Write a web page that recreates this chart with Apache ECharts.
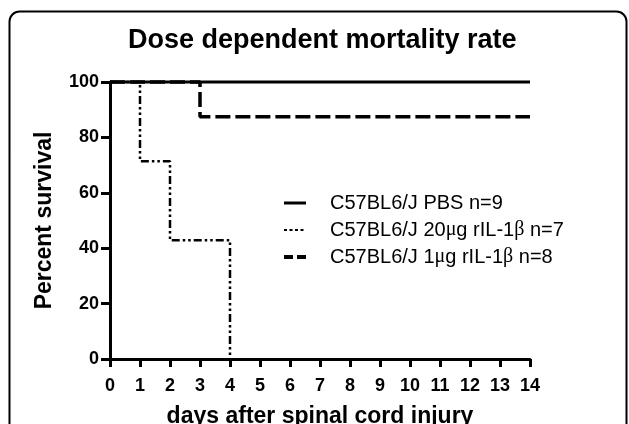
<!DOCTYPE html>
<html>
<head>
<meta charset="utf-8">
<title>Dose dependent mortality rate</title>
<script src="https://cdn.jsdelivr.net/npm/echarts@6/dist/echarts.min.js"></script>
<style>
    html, body { margin: 0; padding: 0; background: #fff; }
    #main { width: 629px; height: 424px; }
</style>
</head>
<body>
<div id="main"></div>
<script>
// 数据
const seriesNames = ['C57BL6/J PBS n=9', 'C57BL6/J 20μg rIL-1β n=7', 'C57BL6/J 1μg rIL-1β n=8']
const pbsDays = [0, 14]
const pbsSurvival = [100, 100]
const highDays = [0, 1, 2, 4]
const highSurvival = [100, 71.43, 42.86, 0]
const lowDays = [0, 3, 14]
const lowSurvival = [100, 87.5, 87.5]

const pairs = (xs, ys) => xs.map((x, i) => [x, ys[i]])
const font = 'Liberation Sans, Arial, sans-serif'

const option = {
    animation: false,
    backgroundColor: '#fff',
    graphic: [{
        type: 'rect',
        shape: { x: 9.5, y: 11.5, width: 617, height: 470, r: 10 },
        style: { fill: 'none', stroke: '#000', lineWidth: 2 },
        silent: true
    }],
    title: {
        text: 'Dose dependent mortality rate',
        left: 123,
        top: 22,
        textStyle: { fontFamily: font, fontSize: 27, fontWeight: 'bold', color: '#000' }
    },
    legend: {
        orient: 'vertical',
        left: 277,
        top: 188,
        itemWidth: 22,
        itemHeight: 14,
        itemGap: 7,
        itemStyle: { opacity: 0, borderWidth: 0 },
        data: [
            { name: seriesNames[0], lineStyle: { width: 3, type: 'solid' } },
            { name: seriesNames[1], lineStyle: { width: 2, type: [3, 2.5] } },
            { name: seriesNames[2], lineStyle: { width: 4, type: [9, 4] } }
        ],
        formatter: (name) => name.replace('μ', '{g|μ}').replace('β', '{g|β}'),
        textStyle: {
            fontFamily: font,
            fontSize: 20,
            color: '#000',
            padding: [0, 0, 0, 19],
            rich: {
                g: { fontFamily: 'Liberation Serif, serif', fontSize: 20, color: '#000' }
            }
        }
    },
    grid: { left: 110, right: 99, top: 82, bottom: 65, outerBoundsMode: 'none' },
    xAxis: {
        type: 'value',
        min: 0,
        max: 14,
        interval: 1,
        name: 'days after spinal cord injury',
        nameLocation: 'middle',
        nameGap: 46,
        nameTextStyle: { fontFamily: font, fontSize: 23, fontWeight: 'bold', color: '#000' },
        splitLine: { show: false },
        axisLine: { onZero: false, lineStyle: { color: '#000', width: 3 } },
        axisTick: { length: 8, lineStyle: { color: '#000', width: 3 } },
        axisLabel: { margin: 18, fontFamily: font, fontSize: 18, fontWeight: 'bold', color: '#000' }
    },
    yAxis: {
        type: 'value',
        min: 0,
        max: 100,
        interval: 20,
        name: 'Percent survival',
        nameLocation: 'middle',
        nameGap: 54,
        nameTextStyle: { fontFamily: font, fontSize: 23, fontWeight: 'bold', color: '#000' },
        splitLine: { show: false },
        axisLine: { show: true, lineStyle: { color: '#000', width: 3 } },
        axisTick: { show: true, length: 9, lineStyle: { color: '#000', width: 3 } },
        axisLabel: { margin: 11, fontFamily: font, fontSize: 18, fontWeight: 'bold', color: '#000' }
    },
    series: [
        {
            name: seriesNames[0],
            type: 'line',
            step: 'end',
            symbol: 'none',
            clip: false,
            z: 5,
            data: pairs(pbsDays, pbsSurvival),
            lineStyle: { color: '#000', width: 3, type: 'solid' },
            itemStyle: { color: '#000' }
        },
        {
            name: seriesNames[1],
            type: 'line',
            step: 'end',
            symbol: 'none',
            clip: false,
            z: 3,
            data: pairs(highDays, highSurvival),
            lineStyle: { color: '#000', width: 2.5, type: [8, 3, 2.5, 3, 2.5, 3] },
            itemStyle: { color: '#000' }
        },
        {
            name: seriesNames[2],
            type: 'line',
            step: 'end',
            symbol: 'none',
            clip: false,
            z: 4,
            data: pairs(lowDays, lowSurvival),
            lineStyle: { color: '#000', width: 3.5, type: [15, 5] },
            itemStyle: { color: '#000' }
        }
    ]
}

const myChart = echarts.init(document.getElementById('main'))
myChart.setOption(option)
</script>
</body>
</html>
